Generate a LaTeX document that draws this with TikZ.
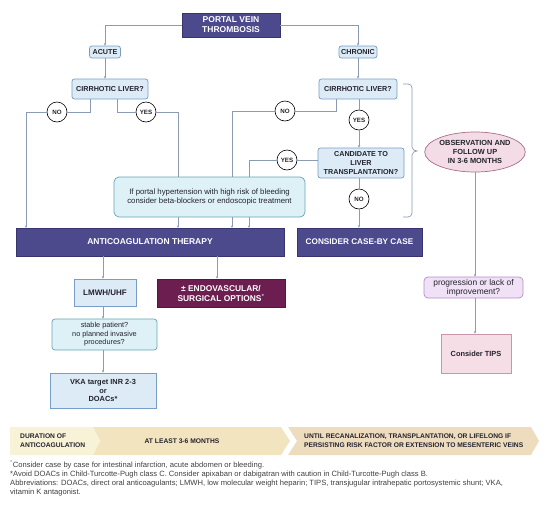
\documentclass[tikz,border=0pt]{standalone}
\usepackage{fontspec}
\setmainfont{Liberation Sans}
\usetikzlibrary{arrows.meta,shapes.geometric}
\definecolor{dpur}{RGB}{76,74,140}
\definecolor{dpurb}{RGB}{55,52,110}
\definecolor{lblue}{RGB}{221,235,247}
\definecolor{lblueb}{RGB}{118,158,198}
\definecolor{lcyan}{RGB}{222,241,246}
\definecolor{lcyanb}{RGB}{100,165,185}
\definecolor{mag}{RGB}{108,30,80}
\definecolor{pinkf}{RGB}{244,220,230}
\definecolor{pinkb}{RGB}{170,110,140}
\definecolor{lavf}{RGB}{241,225,246}
\definecolor{lavb}{RGB}{180,140,200}
\definecolor{tipsf}{RGB}{245,222,230}
\definecolor{tipsb}{RGB}{200,150,170}
\definecolor{conn}{RGB}{140,155,180}
\definecolor{txt}{RGB}{35,35,45}
\definecolor{segA}{RGB}{248,243,214}
\definecolor{segB}{RGB}{242,228,190}
\definecolor{segC}{RGB}{238,220,191}
\tikzset{
  darkbox/.style={draw=dpurb,fill=dpur,text=white,font=\fontsize{8.5}{10}\selectfont\bfseries,align=center,inner sep=0pt,line width=0.6pt},
  magbox/.style={draw=mag!80!black,fill=mag,text=white,font=\fontsize{8.4}{10}\selectfont\bfseries,align=center,inner sep=0pt,line width=0.6pt},
  qbox/.style={draw=lblueb,fill=lblue,text=txt,rounded corners=2.5pt,font=\fontsize{7.2}{9}\selectfont\bfseries,align=center,inner sep=0pt,line width=0.7pt},
  sqbox/.style={draw=lblueb,fill=lblue,text=txt,font=\fontsize{7.4}{8.6}\selectfont\bfseries,align=center,inner sep=0pt,line width=0.7pt},
  cbox/.style={draw=lcyanb,fill=lcyan,text=txt,rounded corners=5pt,font=\fontsize{7.8}{9.3}\selectfont,align=center,inner sep=0pt,line width=0.7pt},
  yn/.style={circle,draw=black,fill=white,text=txt,minimum size=20pt,inner sep=0pt,font=\fontsize{6.2}{6.5}\selectfont\bfseries,line width=0.6pt},
  ln/.style={draw=conn,line width=0.6pt},
  arr/.style={ln,-{Stealth[length=2.6pt,width=2.4pt]}},
  durtext/.style={text=txt,font=\fontsize{6.7}{9}\selectfont\bfseries,align=left,inner sep=0pt},
  foot/.style={text=black!75,font=\fontsize{7.6}{8.8}\selectfont,align=left,inner sep=0pt,anchor=north west}
}
\begin{document}
\begin{tikzpicture}[x=1pt,y=-1pt]
\useasboundingbox (0,0) rectangle (550,507);
\node[darkbox,minimum width=98pt,minimum height=24pt] (pvt) at (231,25) {PORTAL VEIN\\THROMBOSIS};
\node[qbox,minimum width=31pt,minimum height=12pt] (acute) at (105,52) {ACUTE};
\node[qbox,minimum width=38pt,minimum height=12pt] (chronic) at (358,52) {CHRONIC};
\node[qbox,minimum width=76pt,minimum height=20pt] (cirA) at (110,89) {CIRRHOTIC LIVER?};
\node[qbox,minimum width=78pt,minimum height=20pt] (cirC) at (358,89) {CIRRHOTIC LIVER?};
\node[qbox,minimum width=86pt,minimum height=30pt] (cand) at (361,163) {CANDIDATE TO\\LIVER\\TRANSPLANTATION?};
\node[darkbox,minimum width=268pt,minimum height=28pt] (anti) at (150,242) {ANTICOAGULATION THERAPY};
\node[darkbox,minimum width=125pt,minimum height=28pt,font=\fontsize{8.2}{10}\selectfont\bfseries] (cbc) at (359.5,242) {CONSIDER CASE-BY CASE};

\coordinate (aNO) at (26,228);
\coordinate (aYES) at (178,228);
\coordinate (cNO) at (232,228);
\coordinate (cYES) at (249,228);
\coordinate (aNOs) at (90,99);
\coordinate (aYESs) at (117,99);
\coordinate (cNOs) at (336,99);

\node[yn] (noA) at (57,112) {NO};
\node[yn] (yesA) at (146,112) {YES};
\node[yn] (noC) at (285,111) {NO};
\node[yn] (yesC) at (359,120) {YES};
\node[yn] (yesC2) at (287,160) {YES};
\node[yn] (noC2) at (359,199) {NO};

\draw[arr] (pvt.west) -| (acute.north);
\draw[arr] (pvt.east) -| (chronic.north);
\draw[arr] (acute.south) -- (acute.south |- cirA.north);
\draw[arr] (chronic.south) -- (chronic.south |- cirC.north);
\draw[ln] (aNOs) |- (noA.east);
\draw[arr] (noA.west) -| (aNO);
\draw[ln] (aYESs) |- (yesA.west);
\draw[arr] (yesA.east) -| (aYES);
\draw[ln] (cNOs) |- (noC.east);
\draw[arr] (noC.west) -| (cNO);
\draw[ln] (cirC.south -| yesC) -- (yesC.north);
\draw[arr] (yesC.south) -- (yesC.south |- cand.north);
\draw[ln] (cand.west |- yesC2) -- (yesC2.east);
\draw[arr] (yesC2.west) -| (cYES);
\draw[ln] (cand.south -| noC2) -- (noC2.north);
\draw[arr] (noC2.south) -- (noC2.south |- cbc.north);

\node[cbox,minimum width=191pt,minimum height=40pt] (ph) at (209.5,197) {If portal hypertension with high risk of bleeding\\consider beta-blockers or endoscopic treatment};

% brace
\draw[ln,line width=0.7pt] (403,84) -- (408,84) to[out=0,in=90] (412,88) -- (412,147) to[out=-90,in=180] (417,151) to[out=180,in=90] (412,155) -- (412,213) to[out=-90,in=0] (408,217) -- (403,217);

\node[ellipse,draw=pinkb,fill=pinkf,text=txt,minimum width=100pt,minimum height=40pt,inner sep=0pt,line width=0.7pt,align=center,font=\fontsize{7.4}{9.4}\selectfont\bfseries] (obs) at (475,152) {OBSERVATION AND\\FOLLOW UP\\IN 3-6 MONTHS};
\node[draw=lavb,fill=lavf,text=txt,rounded corners=4pt,minimum width=99pt,minimum height=21pt,inner sep=0pt,line width=0.7pt,align=center,font=\fontsize{8.4}{9}\selectfont] (prog) at (473.5,287.5) {progression or lack of\\improvement?};
\node[draw=tipsb,fill=tipsf,text=txt,minimum width=70pt,minimum height=39pt,inner sep=0pt,line width=0.7pt,font=\fontsize{7.4}{8}\selectfont\bfseries] (tips) at (476,353.5) {Consider TIPS};
\draw[arr] (obs.south) -- (obs.south |- prog.north);
\draw[arr] (prog.south -| obs.south) -- (obs.south |- tips.north);

% below anticoagulation
\node[sqbox,minimum width=62pt,minimum height=27pt,font=\fontsize{8}{9}\selectfont\bfseries] (lmwh) at (105,292.5) {LMWH/UHF};
\node[magbox,minimum width=128pt,minimum height=28pt] (endo) at (221,293) {± ENDOVASCULAR/\\SURGICAL OPTIONS\textsuperscript{°}};
\node[cbox,rounded corners=3pt,minimum width=105pt,minimum height=31pt,font=\fontsize{7.3}{8.4}\selectfont] (stab) at (104.5,334.5) {stable patient?\\no planned invasive\\procedures?};
\node[sqbox,minimum width=106pt,minimum height=35pt] (vka) at (103,390.5) {VKA target INR 2-3\\or\\DOACs*};
\coordinate (lmx) at (103,256);
\coordinate (enx) at (217,256);
\draw[arr] (lmx) -- (lmx |- lmwh.north);
\draw[arr] (enx) -- (enx |- endo.north);
\draw[arr] (lmx |- lmwh.south) -- (lmx |- stab.north);
\draw[arr] (lmx |- stab.south) -- (lmx |- vka.north);

% duration bar
\fill[segB] (93,427) -- (281,427) -- (290,441) -- (281,455) -- (93,455) -- (100,441) -- cycle;
\fill[segA] (10,427) -- (93,427) -- (100,441) -- (93,455) -- (10,455) -- cycle;
\fill[segC] (288,427) -- (531,427) -- (539,441) -- (531,455) -- (288,455) -- (297,441) -- cycle;
\node[durtext,anchor=west] (d1) at (20,441) {DURATION OF\\ANTICOAGULATION};
\node[durtext,anchor=center] (d2) at (182,441) {AT LEAST 3-6 MONTHS};
\node[durtext,anchor=west] (d3) at (304,441) {UNTIL RECANALIZATION, TRANSPLANTATION, OR LIFELONG IF\\PERSISTING RISK FACTOR OR EXTENSION TO MESENTERIC VEINS};

% footnotes
\node[foot] (fn) at (10,461) {\textsuperscript{°}Consider case by case for intestinal infarction, acute abdomen or bleeding.\\
*Avoid DOACs in Child-Turcotte-Pugh class C. Consider apixaban or dabigatran with caution in Child-Turcotte-Pugh class B.\\
Abbreviations: DOACs, direct oral anticoagulants; LMWH, low molecular weight heparin; TIPS, transjugular intrahepatic portosystemic shunt; VKA,\\
vitamin K antagonist.};
\end{tikzpicture}
\end{document}
